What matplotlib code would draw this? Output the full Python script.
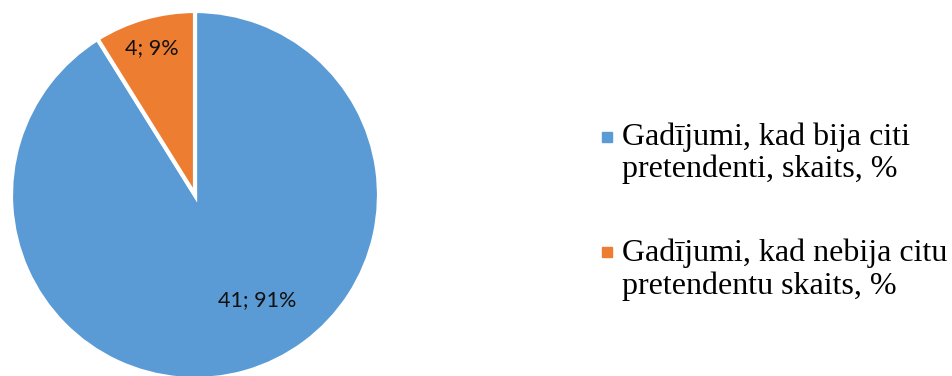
import matplotlib.pyplot as plt
from matplotlib.patches import Rectangle

labels = ["Gadījumi, kad bija citi\npretendenti, skaits, %",
          "Gadījumi, kad nebija citu\npretendentu skaits, %"]
counts = [41, 4]
percents = [91, 9]
colors = ["#5B9BD5", "#ED7D31"]

W, H = 952, 376
fig = plt.figure(figsize=(W / 100, H / 100), dpi=100)
ax = fig.add_axes([0, 0, 1, 1])

# pie in pixel units so it can run slightly off the bottom edge
wedges, _ = ax.pie(counts, colors=colors, startangle=90, counterclock=False,
                   center=(195, 181), radius=184, frame=True,
                   wedgeprops=dict(edgecolor="white", linewidth=3))
ax.set_xlim(0, W)
ax.set_ylim(0, H)
ax.set_aspect("equal")
ax.axis("off")

# data labels "value; percent"
label_pos = [(257, 76), (152, 328)]
for (x, y), c, p in zip(label_pos, counts, percents):
    ax.text(x, y, f"{c}; {p}%", ha="center", va="center",
            fontsize=15.5, family="Lato", color="#111111")

# legend: square marker next to the first line of each entry
entry_top = [122, 239]
marker_top = [132, 247]
for top, mtop, lab, col in zip(entry_top, marker_top, labels, colors):
    ax.add_patch(Rectangle((602, H - mtop - 10), 10, 10, color=col))
    ax.text(622, H - top, lab, ha="left", va="top", fontsize=23,
            family="Liberation Serif", linespacing=1.12)

fig.savefig("out.png", dpi=100)
